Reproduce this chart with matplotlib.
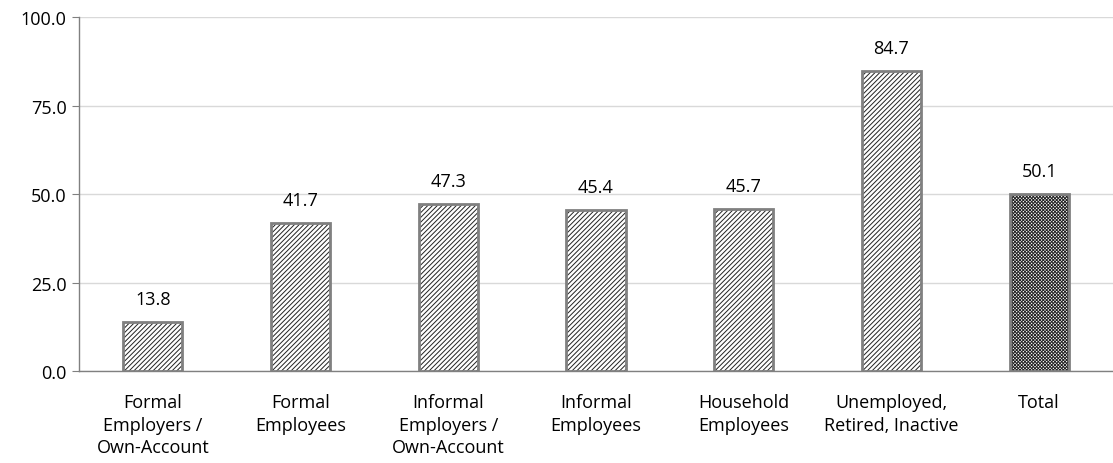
import matplotlib
matplotlib.use('Agg')
import matplotlib.pyplot as plt

categories = ['Formal\nEmployers /\nOwn-Account', 'Formal\nEmployees',
              'Informal\nEmployers /\nOwn-Account', 'Informal\nEmployees',
              'Household\nEmployees', 'Unemployed,\nRetired, Inactive', 'Total']
values = [13.8, 41.7, 47.3, 45.4, 45.7, 84.7, 50.1]
hatches = ['///////'] * 6 + ['xxxxxxxxxx']

plt.rcParams['font.family'] = ['Open Sans', 'DejaVu Sans']
plt.rcParams['hatch.linewidth'] = 0.7

fig = plt.figure(figsize=(11.13, 4.64), dpi=100)
ax = fig.add_axes([0.071, 0.198, 0.929, 0.763])

x = list(range(len(values)))
for xi, v, h in zip(x, values, hatches):
    # hatch drawn in dark, border drawn on top in grey
    ax.bar(xi, v, width=0.4, color='white', edgecolor='#222222', hatch=h,
           linewidth=0, zorder=3)
    ax.bar(xi, v, width=0.4, fill=False, edgecolor='#808080',
           linewidth=2, zorder=4)
    ax.text(xi, v + 4, f'{v:.1f}', ha='center', va='bottom', fontsize=13, color='#000')

ax.set_xlim(-0.5, len(values) - 0.5)
ax.set_ylim(0, 100)
ax.set_yticks([0, 25, 50, 75, 100])
ax.set_yticklabels([f'{t:.1f}' for t in [0, 25, 50, 75, 100]], fontsize=13)
ax.set_xticks(x)
ax.set_xticklabels(categories, fontsize=13, linespacing=1.3)
ax.tick_params(axis='x', length=0, pad=16)
ax.tick_params(axis='y', length=5, color='#808080', pad=4)
ax.grid(axis='y', color='#d9d9d9', linewidth=1, zorder=0)
for s in ['top', 'right']:
    ax.spines[s].set_visible(False)
for s in ['left', 'bottom']:
    ax.spines[s].set_color('#808080')
    ax.spines[s].set_linewidth(1)

fig.savefig('out.png', dpi=100)
